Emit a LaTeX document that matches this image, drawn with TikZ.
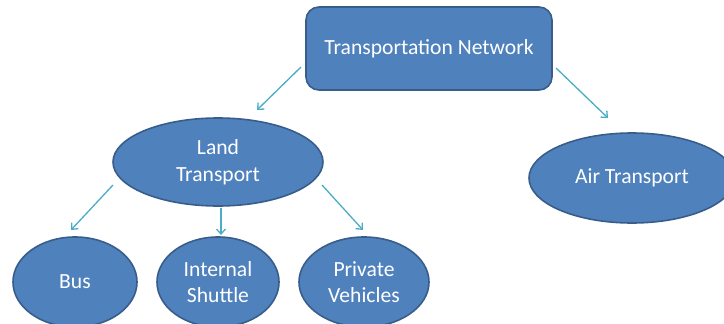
\documentclass[tikz,border=0pt]{standalone}
\usepackage{fontspec}
\setmainfont{Carlito}
\usetikzlibrary{shapes.geometric,arrows.meta}
\definecolor{boxblue}{HTML}{4F81BD}
\definecolor{boxline}{HTML}{385D8A}
\definecolor{arrowteal}{HTML}{4BACC6}
\tikzset{
  blob/.style={ellipse, draw=boxline, line width=1.6pt, fill=boxblue, text=white,
    align=center, inner sep=0pt, font=\fontsize{21.6}{26.5}\selectfont},
  topbox/.style={rectangle, rounded corners=13pt, draw=boxline, line width=1.6pt,
    fill=boxblue, text=white, font=\fontsize{21.6}{26.5}\selectfont,
    minimum width=246pt, minimum height=83pt},
  link/.style={draw=arrowteal, line width=1.3pt, -{Straight Barb[length=5pt,width=9pt]}}
}
\begin{document}
\begin{tikzpicture}[x=1pt,y=-1pt]
\useasboundingbox (0,0) rectangle (724,324);
\node[topbox] (net) at (429,48.5){Transportation Network};
\node[blob, minimum width=210pt, minimum height=88pt] (land) at (218,162){Land\\Transport};
\node[blob, minimum width=206pt, minimum height=90pt] (air) at (632,178){Air Transport};
\node[blob, minimum width=124pt, minimum height=90pt] (bus) at (75,282){Bus};
\node[blob, minimum width=122pt, minimum height=90pt] (shuttle) at (218,282){Internal\\Shuttle};
\node[blob, minimum width=130pt, minimum height=90pt] (private) at (364,282){Private\\Vehicles};
\coordinate (net-l) at (301,67);
\coordinate (land-in) at (257,110);
\coordinate (net-r) at (556,68);
\coordinate (air-in) at (608,118);
\coordinate (land-l) at (113,185);
\coordinate (bus-in) at (71,230);
\coordinate (land-b) at (221,208);
\coordinate (shuttle-in) at (221,235);
\coordinate (land-r) at (322,185);
\coordinate (private-in) at (363,230);
\draw[link](net-l) -- (land-in);
\draw[link](net-r) -- (air-in);
\draw[link](land-l) -- (bus-in);
\draw[link](land-b) -- (shuttle-in);
\draw[link](land-r) -- (private-in);
\end{tikzpicture}
\end{document}
